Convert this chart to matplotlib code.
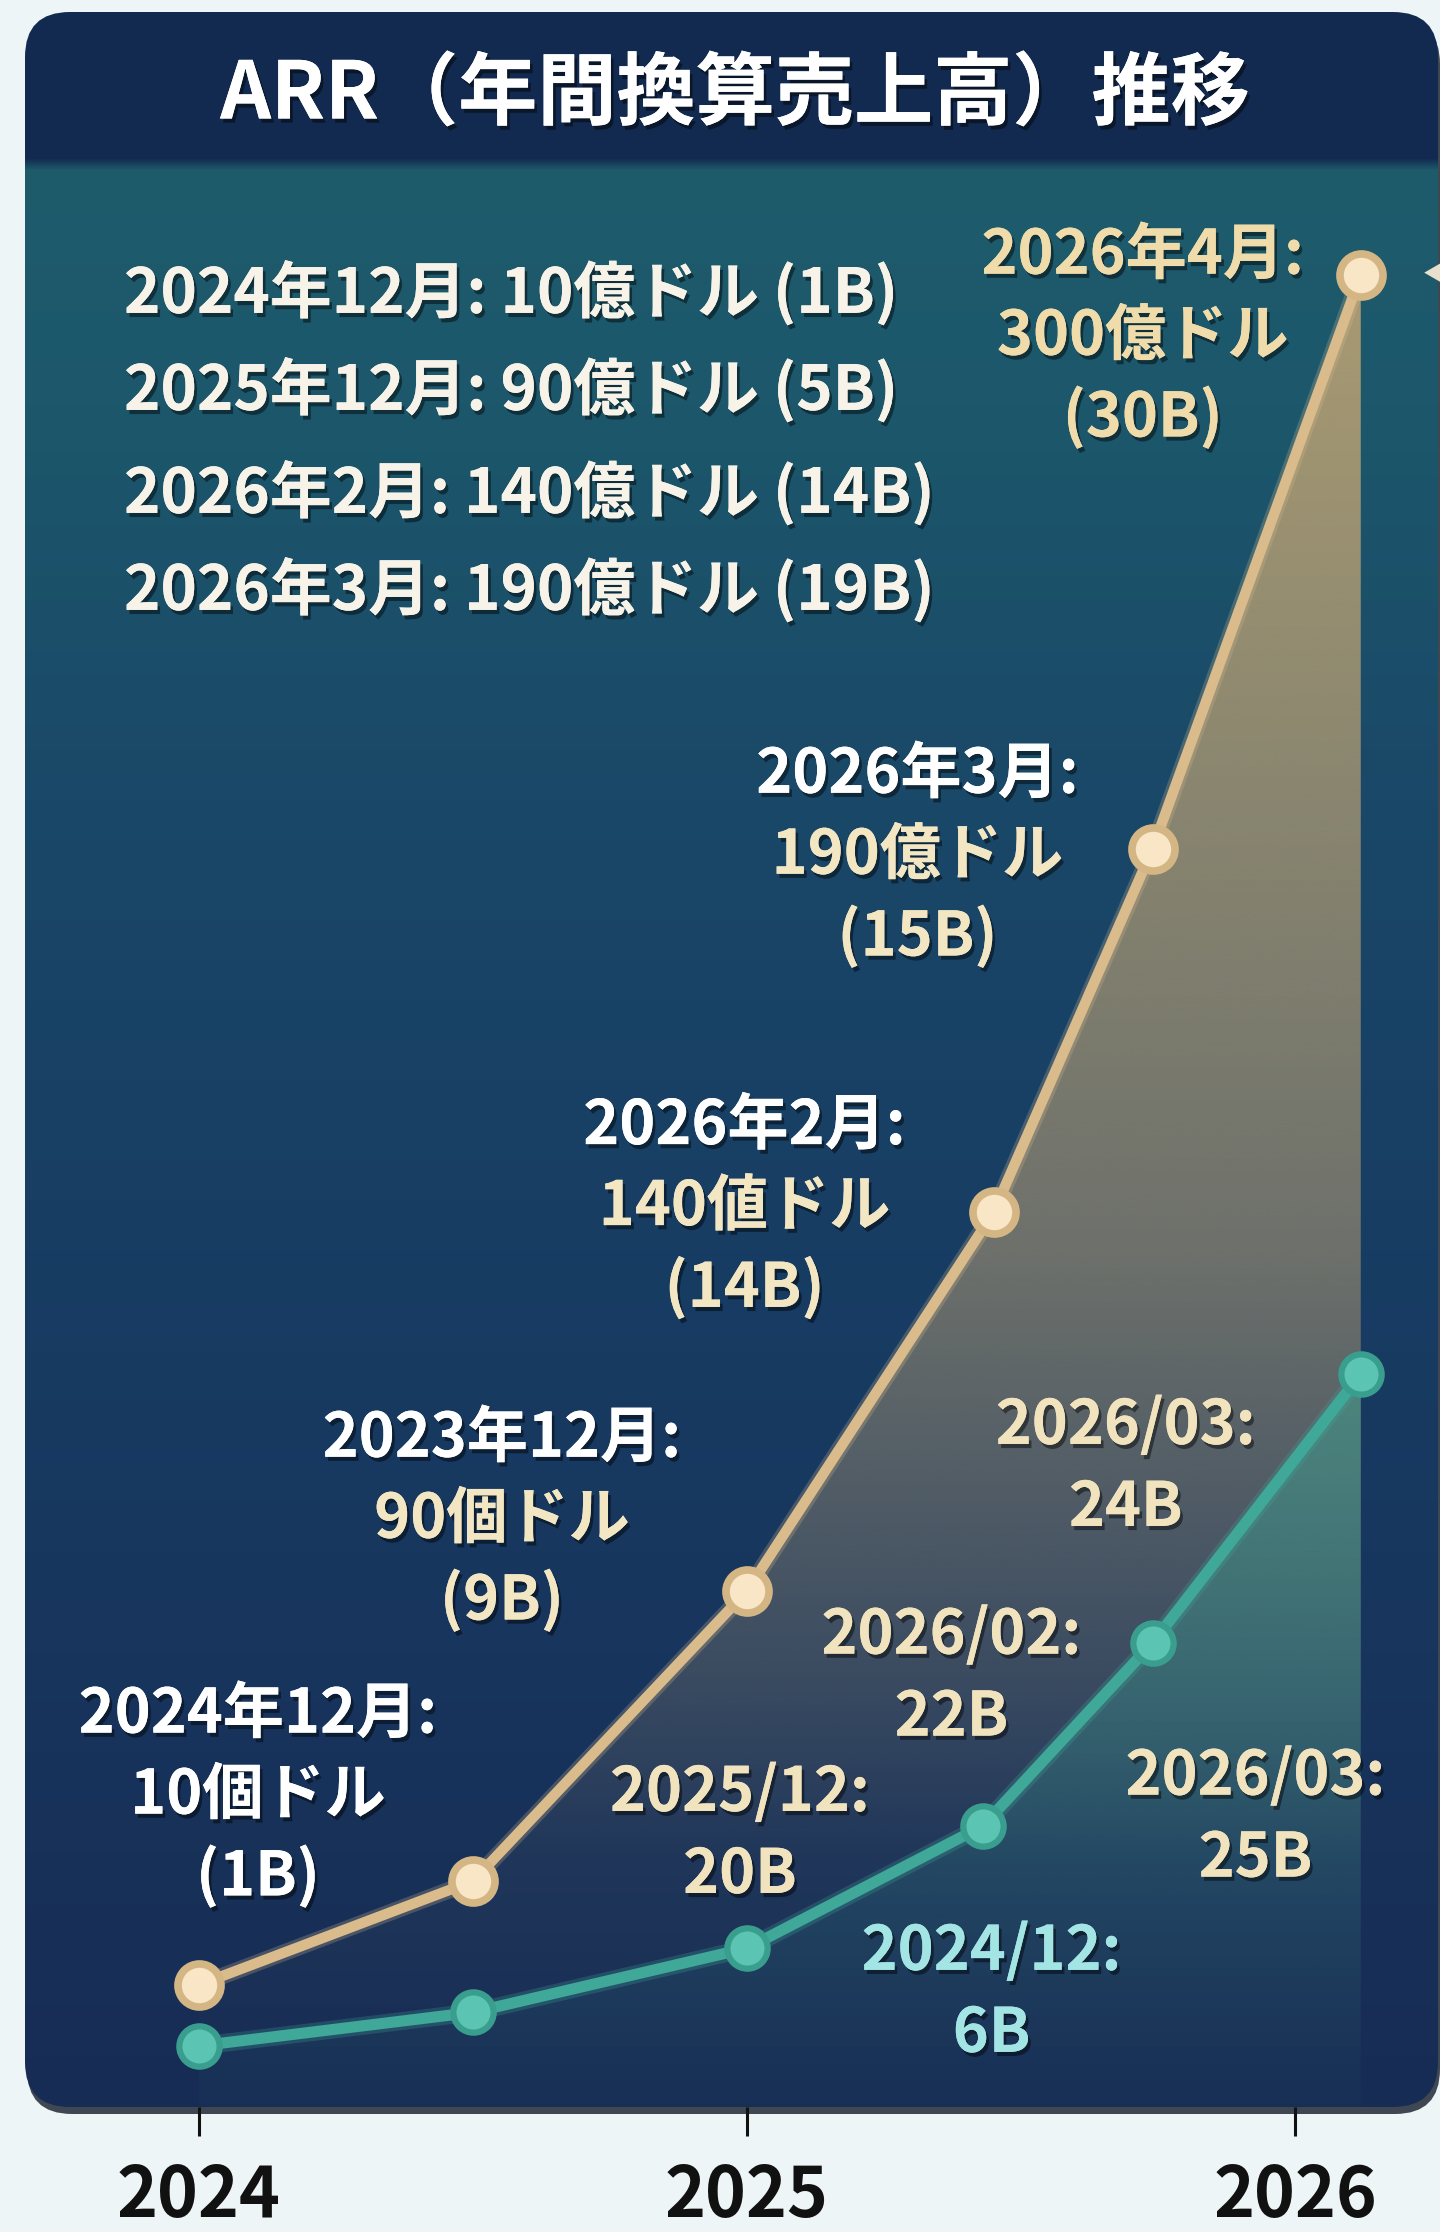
import numpy as np
import matplotlib
matplotlib.use("Agg")
import matplotlib.pyplot as plt
from matplotlib.patches import FancyBboxPatch
import matplotlib.patheffects as pe
from matplotlib.colors import to_rgb

plt.rcParams['font.family'] = ['Noto Sans CJK JP', 'DejaVu Sans']

# ---------------- data ----------------
title = "ARR（年間換算売上高）推移"
year_ticks = [2024, 2025, 2026]
year_labels = ["2024", "2025", "2026"]

gold_x = [2024.0, 2024.5, 2025.0, 2025.45, 2025.74, 2026.12]
gold_y = [2.0, 3.7, 8.45, 14.65, 20.6, 30.0]
teal_x = [2024.0, 2024.5, 2025.0, 2025.43, 2025.74, 2026.12]
teal_y = [1.0, 1.55, 2.6, 4.6, 7.6, 12.0]

summary_lines = [
    "2024年12月: 10億ドル (1B)",
    "2025年12月: 90億ドル (5B)",
    "2026年2月: 140億ドル (14B)",
    "2026年3月: 190億ドル (19B)",
]

gold_label_idx = [0, 2, 3, 4, 5]
gold_label_text = [
    "2024年12月:\n10個ドル\n(1B)",
    "2023年12月:\n90個ドル\n(9B)",
    "2026年2月:\n140値ドル\n(14B)",
    "2026年3月:\n190億ドル\n(15B)",
    "2026年4月:\n300億ドル\n(30B)",
]
teal_label_idx = [2, 3, 4, 4, 5]
teal_label_text = [
    "2025/12:\n20B",
    "2024/12:\n6B",
    "2026/02:\n22B",
    "2026/03:\n25B",
    "2026/03:\n24B",
]

# ---------------- layout / style ----------------
W, H = 1440, 2232
CL, CT, CW, CH, R = 25, 12, 1413, 2095, 45
PLOT_TOP = 165
fig = plt.figure(figsize=(W / 100, H / 100), dpi=100)
fig.patch.set_facecolor('#eef5f7')

bg = fig.add_axes([0, 0, 1, 1])
bg.set_xlim(0, W)
bg.set_ylim(H, 0)
bg.axis('off')

shadow = FancyBboxPatch((CL + 2, CT + 7), CW, CH, boxstyle=f"round,pad=0,rounding_size={R}",
                        fc='#050d1c', ec='none', alpha=0.75, zorder=0.5)
bg.add_patch(shadow)
card = FancyBboxPatch((CL, CT), CW, CH, boxstyle=f"round,pad=0,rounding_size={R}",
                      fc='none', ec='none', zorder=1)
bg.add_patch(card)

stops_y = [CT, 158, 170, 450, 800, 1200, 1600, CT + CH]
stops_c = ['#132a50', '#132a50', '#1e5c6b', '#1c566b', '#1a4868', '#183e64', '#17365e', '#172c54']
ys = np.arange(CT, CT + CH)
rgb = np.array([to_rgb(c) for c in stops_c])
grad = np.stack([np.interp(ys, stops_y, rgb[:, k]) for k in range(3)], axis=-1)[:, None, :]
grad = np.repeat(grad, 4, axis=1)
im = bg.imshow(grad, extent=(CL, CL + CW, CT + CH, CT), aspect='auto', origin='upper', zorder=1)
im.set_clip_path(card)
bg.set_xlim(0, W)
bg.set_ylim(H, 0)

shadow_fx = [pe.withSimplePatchShadow(offset=(2, -3), shadow_rgbFace='#000000', alpha=0.45), pe.Normal()]

bg.text(735, 95, title, fontsize=57, fontweight='bold', color='white', ha='center', va='center',
        zorder=5, path_effects=shadow_fx)

summary_y = [293, 390, 493, 590]
for s, yy in zip(summary_lines, summary_y):
    bg.text(124, yy, s, fontsize=44.5, fontweight='bold', color='#f7f3e8', ha='left', va='center',
            zorder=5, path_effects=shadow_fx)

# ---------------- data axes ----------------
px_per_year = 548.0
x0_px = 199.0
ax = fig.add_axes([CL / W, (H - (CT + CH)) / H, (W - CL) / W, (CT + CH - PLOT_TOP) / H])
XL = (2024 - (x0_px - CL) / px_per_year, 2026 + (W - (x0_px + 2 * px_per_year)) / px_per_year)
ax.set_xlim(*XL)
ax.set_ylim(0, 31.8)
ax.patch.set_alpha(0)
for s in ax.spines.values():
    s.set_visible(False)
ax.set_yticks([])
ax.set_xticks(year_ticks, year_labels)
ax.tick_params(axis='x', direction='out', length=21, width=2.2, color='#111111', pad=18,
               labelsize=50, labelcolor='#111111')
for lab in ax.get_xticklabels():
    lab.set_fontweight('bold')


def gradient_fill(xs, ys_, color, a_y, a_v, z):
    poly = ax.fill_between(xs, ys_, 0, facecolor='none', edgecolor='none')
    path = poly.get_paths()[0]
    top = max(ys_)
    yy = np.linspace(0, top, 300)
    alpha = np.interp(yy, a_y, a_v)
    c = np.array(to_rgb(color))
    arr = np.zeros((300, 1, 4))
    arr[:, 0, :3] = c
    arr[:, 0, 3] = alpha
    img = ax.imshow(arr, extent=(xs[0], xs[-1], 0, top), origin='lower', aspect='auto',
                    interpolation='bilinear', zorder=z)
    img.set_clip_path(path, ax.transData)


gradient_fill(gold_x, gold_y, '#c9a874', [0, 4, 7, 14, 30], [0.0, 0.05, 0.2, 0.49, 0.82], 1)
gradient_fill(teal_x, teal_y, '#3aa896', [0, 3, 7, 12], [0.03, 0.12, 0.32, 0.48], 1.5)
ax.set_xlim(*XL)
ax.set_ylim(0, 31.8)

glow_g = [pe.Stroke(linewidth=12, foreground='#d9bb8c', alpha=0.25), pe.Normal()]
glow_t = [pe.Stroke(linewidth=13, foreground='#3fa898', alpha=0.25), pe.Normal()]
ax.plot(gold_x, gold_y, color='#d9bb8c', lw=7.5, solid_joinstyle='round', solid_capstyle='round',
        zorder=4, path_effects=glow_g)
ax.plot(gold_x, gold_y, ls='none', marker='o', ms=31, mfc='#f8e6c6', mec='#d4b584', mew=5.5, zorder=5)
ax.plot(teal_x, teal_y, color='#3fa898', lw=8, solid_joinstyle='round', solid_capstyle='round',
        zorder=4, path_effects=glow_t)
ax.plot(teal_x, teal_y, ls='none', marker='o', ms=29, mfc='#5cc4b3', mec='#3a9e8f', mew=4.5, zorder=5)

ax.annotate("◀", xy=(gold_x[-1], gold_y[-1]), xytext=(72, 0), textcoords='offset pixels',
            ha='center', va='center', fontsize=14, color='#e8e0cc', zorder=6)

# gold labels
gold_offsets = [(59, 189), (-245, 71), (-249, 5), (-235, -7), (-218, -62)]
gold_head = ['#ffffff', '#ffffff', '#ffffff', '#ffffff', '#efdcaa']
gold_body = ['#ffffff', '#f2e6c3', '#f2e6c3', '#f2e6c3', '#efdcaa']
sp = 81
for idx, txt, (dx, dy), ch, cb in zip(gold_label_idx, gold_label_text, gold_offsets, gold_head, gold_body):
    lines = txt.split("\n")
    n = len(lines)
    for k, ln in enumerate(lines):
        off = dy + ((n - 1) / 2 - k) * sp
        ax.annotate(ln, xy=(gold_x[idx], gold_y[idx]), xytext=(dx, off), textcoords='offset pixels',
                    ha='center', va='center', fontsize=44, fontweight='bold',
                    color=ch if k == 0 else cb, zorder=6, path_effects=shadow_fx)

# teal labels
teal_offsets = [(-7, 114), (9, -167), (-201, -34), (103, -175), (-235, -93)]
teal_colors = ['#f0e3bd', '#a3e4e4', '#f0e3bd', '#f0e3bd', '#f0e3bd']
sp2 = 82
for idx, txt, (dx, dy), c in zip(teal_label_idx, teal_label_text, teal_offsets, teal_colors):
    lines = txt.split("\n")
    n = len(lines)
    for k, ln in enumerate(lines):
        off = dy + ((n - 1) / 2 - k) * sp2
        ax.annotate(ln, xy=(teal_x[idx], teal_y[idx]), xytext=(dx, off), textcoords='offset pixels',
                    ha='center', va='center', fontsize=44, fontweight='bold',
                    color=c, zorder=6, path_effects=shadow_fx)

fig.savefig("out.png", dpi=100, facecolor=fig.get_facecolor())
